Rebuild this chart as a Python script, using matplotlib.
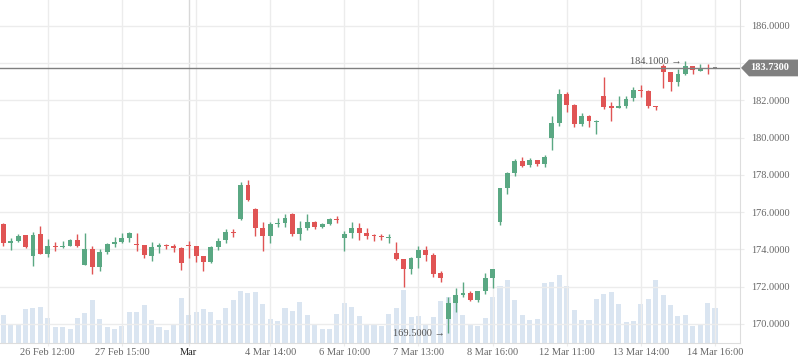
import matplotlib
matplotlib.use('Agg')
import matplotlib.pyplot as plt
import matplotlib.transforms as mtransforms
from matplotlib.patches import Polygon
from matplotlib.ticker import FuncFormatter
import numpy as np

plt.rcParams['font.family'] = ['Liberation Serif', 'DejaVu Serif']

# OHLC per candle
opens = [175.36, 174.36, 174.45, 174.77, 173.66, 174.83, 173.75, 174.16, 174.12, 174.20,
         174.50, 173.18, 174.04, 173.07, 173.86, 174.29, 174.40, 174.63, 174.29, 174.24,
         173.65, 174.13, 174.25, 174.18, 174.09, 174.24, 174.18, 173.65, 173.34, 174.13,
         174.50, 174.93, 175.63, 177.45, 176.15, 175.15, 174.74, 175.36, 175.42, 175.92,
         174.84, 175.15, 175.45, 175.22, 175.38, 175.63, 174.63, 174.88, 175.15, 174.88,
         174.76, 174.72, 174.63, 173.81, 173.49, 172.93, 173.56, 173.97, 173.70, 172.73,
         170.29, 171.14, 171.56, 171.64, 171.30, 171.79, 172.48, 175.49, 177.31, 178.10,
         178.74, 178.53, 178.79, 178.58, 179.97, 180.79, 182.33, 181.74, 180.74, 181.15,
         180.85, 182.22, 181.67, 181.60, 181.69, 182.14, 182.57, 182.49, 181.67, 183.83,
         183.49, 182.99, 183.40, 183.82, 183.58, 183.69, 183.73]
highs = [175.43, 174.60, 174.84, 174.77, 174.93, 175.25, 174.56, 174.38, 174.47, 174.57,
         174.83, 174.88, 174.16, 174.02, 174.34, 174.65, 174.90, 174.95, 174.90, 174.26,
         174.40, 174.34, 174.31, 174.31, 174.15, 174.45, 174.20, 173.66, 174.18, 174.61,
         175.11, 175.09, 177.61, 177.72, 176.20, 175.47, 175.47, 175.67, 175.90, 175.95,
         175.52, 175.90, 175.51, 175.42, 175.68, 175.79, 174.99, 175.47, 175.42, 175.15,
         174.84, 174.83, 174.81, 174.40, 173.50, 173.59, 174.16, 174.18, 173.81, 172.84,
         171.45, 171.95, 172.25, 171.75, 171.79, 172.73, 172.97, 177.30, 178.17, 178.85,
         178.95, 178.90, 178.80, 179.06, 181.15, 182.60, 182.44, 181.81, 181.31, 181.21,
         180.92, 183.26, 181.89, 182.22, 182.24, 182.72, 182.82, 182.55, 181.71, 183.92,
         183.50, 183.67, 184.10, 183.85, 183.92, 183.92, 183.73]
lows = [174.20, 173.97, 174.38, 174.09, 173.11, 173.75, 173.61, 173.93, 174.08, 174.18,
        174.15, 173.18, 172.70, 172.86, 173.77, 174.11, 174.36, 174.41, 173.91, 173.56,
        173.40, 173.79, 174.04, 173.88, 172.90, 173.56, 173.34, 172.86, 173.29, 173.97,
        174.33, 174.68, 175.58, 176.60, 174.74, 173.93, 174.34, 175.22, 175.22, 174.74,
        174.52, 175.04, 175.08, 175.13, 175.33, 175.42, 173.93, 174.63, 174.52, 174.58,
        174.47, 174.50, 174.36, 173.43, 172.00, 172.70, 173.02, 173.40, 172.54, 172.27,
        169.50, 170.64, 171.45, 171.25, 171.20, 171.63, 171.95, 175.31, 176.97, 177.94,
        178.42, 178.42, 178.47, 178.42, 179.33, 180.62, 181.37, 180.58, 180.63, 180.58,
        180.21, 181.55, 180.90, 181.58, 181.60, 181.98, 182.15, 181.56, 181.46, 182.64,
        182.51, 182.78, 183.35, 183.39, 183.55, 183.42, 183.73]
closes = [174.36, 174.45, 174.72, 174.13, 174.77, 173.75, 174.17, 174.12, 174.17, 174.50,
          174.20, 174.02, 173.07, 173.86, 174.29, 174.38, 174.59, 174.86, 174.25, 173.72,
          174.13, 174.24, 174.18, 174.07, 173.29, 174.18, 173.65, 173.34, 174.13, 174.45,
          174.93, 174.86, 177.45, 176.65, 175.17, 174.74, 175.36, 175.42, 175.68, 174.84,
          175.15, 175.47, 175.22, 175.36, 175.63, 175.58, 174.83, 175.15, 174.90, 174.74,
          174.72, 174.66, 174.68, 173.49, 172.93, 173.52, 173.97, 173.72, 172.70, 172.48,
          171.13, 171.54, 171.64, 171.30, 171.75, 172.47, 172.95, 177.29, 178.08, 178.74,
          178.47, 178.79, 178.58, 178.95, 180.79, 182.33, 181.76, 180.74, 181.15, 180.90,
          180.90, 181.65, 181.60, 181.67, 182.05, 182.55, 182.51, 181.71, 181.61, 183.53,
          182.99, 183.40, 183.82, 183.62, 183.69, 183.65, 183.73]
volumes = [28, 19, 19, 34, 35, 36, 25, 16, 16, 14, 25, 30, 43, 24, 16, 14, 17, 31, 31, 38,
           23, 16, 13, 18, 45, 28, 31, 34, 31, 23, 35, 43, 52, 50, 51, 39, 24, 22, 35, 32,
           41, 28, 18, 14, 14, 29, 40, 36, 27, 19, 18, 17, 29, 35, 53, 26, 27, 18, 26, 42,
           46, 46, 28, 19, 17, 25, 46, 57, 63, 43, 28, 23, 24, 60, 61, 68, 57, 33, 23, 23,
           44, 49, 51, 39, 21, 22, 39, 44, 63, 48, 38, 27, 28, 17, 18, 40, 35]

tick_pos = [6, 16, 25, 36, 46, 56, 66, 76, 86, 96]
tick_labels = ['26 Feb 12:00', '27 Feb 15:00', 'Mar', '4 Mar 14:00', '6 Mar 10:00',
               '7 Mar 13:00', '8 Mar 16:00', '12 Mar 11:00', '13 Mar 14:00', '14 Mar 16:00']
grid_x = [6, 16, 26, 36, 46, 56, 66, 76, 86, 96]
month_x = 25
last_price = 183.73

up_col = '#5aa883'
down_col = '#e05454'
flat_col = '#8a8a8a'
vol_col = '#dae5f1'
grid_col = '#ececec'

o = np.array(opens); h = np.array(highs); l = np.array(lows); c = np.array(closes)
idx = np.arange(len(o))
cols = np.where(c > o, up_col, np.where(c < o, down_col, flat_col))

fig = plt.figure(figsize=(7.98, 3.63), dpi=100)
rect = [0, 20.5 / 363, 740 / 798, 342.5 / 363]

# volume underneath
axv = fig.add_axes(rect)
axv.bar(idx, volumes, width=0.68, color=vol_col, zorder=1)
axv.set_ylim(0, 342.5)
axv.set_xlim(-0.445, 99.37)
axv.axis('off')

ax = fig.add_axes(rect)
ax.set_facecolor('none')
ax.set_xlim(-0.445, 99.37)
ax.set_ylim(169.008, 187.373)

for g in grid_x:
    ax.axvline(g, color=grid_col, lw=1, zorder=0)
ax.axvline(month_x, color='#d8d8d8', lw=1, zorder=0)

ax.set_yticks(np.arange(170, 187, 2))
# the tick under the last-price tag is hidden by the tag
ax.yaxis.set_major_formatter(FuncFormatter(
    lambda v, p: '' if abs(v - last_price) < 0.8 else f'{v:.4f}'))
ax.grid(axis='y', color=grid_col, lw=1, zorder=0)
ax.set_axisbelow(True)

ax.vlines(idx, l, h, colors=cols, lw=1, zorder=3)
ax.bar(idx, np.maximum(np.abs(c - o), 0.055), bottom=np.minimum(o, c), width=0.66,
       color=cols, zorder=4)

ax.axhline(last_price, color='#7f7f7f', lw=1, zorder=5)

# high / low markers
imax = int(np.argmax(h)); imin = int(np.argmin(l))
ax.text(imax - 0.5, h[imax], f'{h[imax]:.4f} \u2192', ha='right', va='center',
        fontsize=7.5, color='#555555', zorder=6)
ax.text(imin - 0.4, l[imin], f'{l[imin]:.4f} \u2192', ha='right', va='center',
        fontsize=7.5, color='#555555', zorder=6)

ax.yaxis.tick_right()
ax.tick_params(axis='y', length=3, color=grid_col, pad=5, labelcolor='#666666', labelsize=7.5)
ax.set_xticks(tick_pos, tick_labels)
ax.tick_params(axis='x', length=2, color=grid_col, pad=2, labelcolor='#666666', labelsize=7.5)
for lab in ax.get_xticklabels():
    if lab.get_text() == 'Mar':
        lab.set_color('#222222')

for s in ['top', 'left']:
    ax.spines[s].set_visible(False)
for s in ['right', 'bottom']:
    ax.spines[s].set_color('#dddddd')

# last price tag on the axis
tr = mtransforms.blended_transform_factory(fig.transFigure, ax.transData)
hh = 0.45
tag = Polygon([(741 / 798, last_price), (749 / 798, last_price + hh), (1.0, last_price + hh),
               (1.0, last_price - hh), (749 / 798, last_price - hh)],
              closed=True, facecolor='#808080', edgecolor='none', transform=tr,
              clip_on=False, zorder=10)
fig.add_artist(tag)
fig.text(770 / 798, last_price, f'{last_price:.4f}', transform=tr, ha='center', va='center',
         color='white', fontsize=7.5, fontweight='bold', zorder=11)

fig.savefig('out.png', dpi=100)
